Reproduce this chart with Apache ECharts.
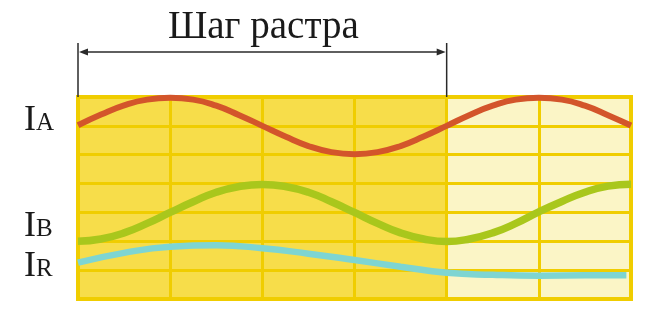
<!DOCTYPE html>
<html>
<head>
<meta charset="utf-8">
<script src="https://cdn.jsdelivr.net/npm/echarts@6/dist/echarts.min.js"></script>
<style>
html,body{margin:0;padding:0;background:#ffffff;}
#c{width:650px;height:315px;}
</style>
</head>
<body>
<div id="c"></div>
<script>
// ---- data ----
const titleText = 'Шаг растра';
const labels = [['I', 'A'], ['I', 'B'], ['I', 'R']];
const labelBaselines = [131, 237, 277];
const rasterStep = [0, 4];          // columns spanned by the arrow
const lightRegion = [4, 6];         // lighter part of the grid
const xAB = [0,0.25,0.5,0.75,1,1.25,1.5,1.75,2,2.25,2.5,2.75,3,3.25,3.5,3.75,4,4.25,4.5,4.75,5,5.25,5.5,5.75,6];
const seriesIA = [6.02,6.39,6.71,6.91,6.97,6.91,6.70,6.37,6.00,5.63,5.30,5.09,5.02,5.09,5.30,5.63,6.00,6.38,6.70,6.91,6.97,6.91,6.70,6.37,6.01];
const seriesIB = [2.00,2.08,2.29,2.62,3.00,3.37,3.70,3.90,3.97,3.90,3.70,3.37,3.00,2.62,2.29,2.08,1.99,2.08,2.29,2.62,3.02,3.38,3.70,3.91,3.98];
const xR = [0,0.5,1,1.5,2,2.5,3,3.5,4,4.5,5,5.5,5.95];
const seriesIR = [1.26,1.60,1.81,1.86,1.76,1.57,1.35,1.12,0.91,0.84,0.81,0.82,0.82];

const pair = (xs, ys) => xs.map((x, i) => [x, ys[i]]);

const chart = echarts.init(document.getElementById('c'), null, {renderer: 'canvas'});
const gridLine = {show: true, lineStyle: {color: '#f0cd00', width: 3}};
const option = {
  animation: false,
  grid: {left: 78, right: 19, top: 97, bottom: 16, show: true, borderColor: '#f0cd00', borderWidth: 4, backgroundColor: 'transparent', z: 1.6},
  xAxis: {type: 'value', min: 0, max: 6, interval: 1, z: 1.5,
    axisLine: {show: false}, axisTick: {show: false}, axisLabel: {show: false}, splitLine: gridLine},
  yAxis: {type: 'value', min: 0, max: 7, interval: 1, z: 1.5,
    axisLine: {show: false}, axisTick: {show: false}, axisLabel: {show: false}, splitLine: gridLine},
  series: [
    {type: 'line', z: 0, data: [], silent: true,
      markArea: {silent: true, data: [
        [{coord: [0, 0], itemStyle: {color: '#f7dd4a'}}, {coord: [lightRegion[0], 7]}],
        [{coord: [lightRegion[0], 0], itemStyle: {color: '#fbf5c6'}}, {coord: [lightRegion[1], 7]}]
      ]}},
    {name: 'IA', type: 'line', z: 3, clip: false, smooth: true, showSymbol: false, symbol: 'none',
      data: pair(xAB, seriesIA), lineStyle: {color: '#d3552b', width: 6}},
    {name: 'IB', type: 'line', z: 3, clip: false, smooth: true, showSymbol: false, symbol: 'none',
      data: pair(xAB, seriesIB), lineStyle: {color: '#a9c71c', width: 7.5}},
    {name: 'IR', type: 'line', z: 3, clip: false, smooth: true, showSymbol: false, symbol: 'none',
      data: pair(xR, seriesIR), lineStyle: {color: '#7ed5d2', width: 6.5}}
  ]
};
chart.setOption(option);

// ---- annotations ----
const p0 = chart.convertToPixel({gridIndex: 0}, [rasterStep[0], 7]);
const p1 = chart.convertToPixel({gridIndex: 0}, [rasterStep[1], 7]);
const ay = 52, vTop = 43;
const ink = '#2a2a2a';
const g = [];
g.push({type: 'line', shape: {x1: p0[0], y1: vTop, x2: p0[0], y2: p0[1]}, style: {stroke: ink, lineWidth: 1.5}, z: 10});
g.push({type: 'line', shape: {x1: p1[0], y1: vTop, x2: p1[0], y2: p1[1]}, style: {stroke: ink, lineWidth: 1.5}, z: 10});
g.push({type: 'line', shape: {x1: p0[0] + 4, y1: ay, x2: p1[0] - 4, y2: ay}, style: {stroke: ink, lineWidth: 1.5}, z: 10});
g.push({type: 'polygon', shape: {points: [[p0[0] + 1, ay], [p0[0] + 10, ay - 3.5], [p0[0] + 10, ay + 3.5]]}, style: {fill: ink}, z: 10});
g.push({type: 'polygon', shape: {points: [[p1[0] - 1, ay], [p1[0] - 10, ay - 3.5], [p1[0] - 10, ay + 3.5]]}, style: {fill: ink}, z: 10});
g.push({type: 'text', x: (p0[0] + p1[0]) / 2 + 1, y: 47, z: 10,
  style: {text: titleText, font: '39px "Liberation Serif"', fill: '#1a1a1a', align: 'center', verticalAlign: 'bottom'}});
labels.forEach((lb, i) => {
  const b = labelBaselines[i];
  g.push({type: 'text', x: 24, y: b + 8, z: 10,
    style: {text: lb[0], font: '36px "Liberation Serif"', fill: '#1a1a1a', align: 'left', verticalAlign: 'bottom'}});
  g.push({type: 'text', x: 36, y: b + 5.4, z: 10,
    style: {text: lb[1], font: '25px "Liberation Serif"', fill: '#1a1a1a', align: 'left', verticalAlign: 'bottom'}});
});
chart.setOption({graphic: g});
</script>
</body>
</html>
